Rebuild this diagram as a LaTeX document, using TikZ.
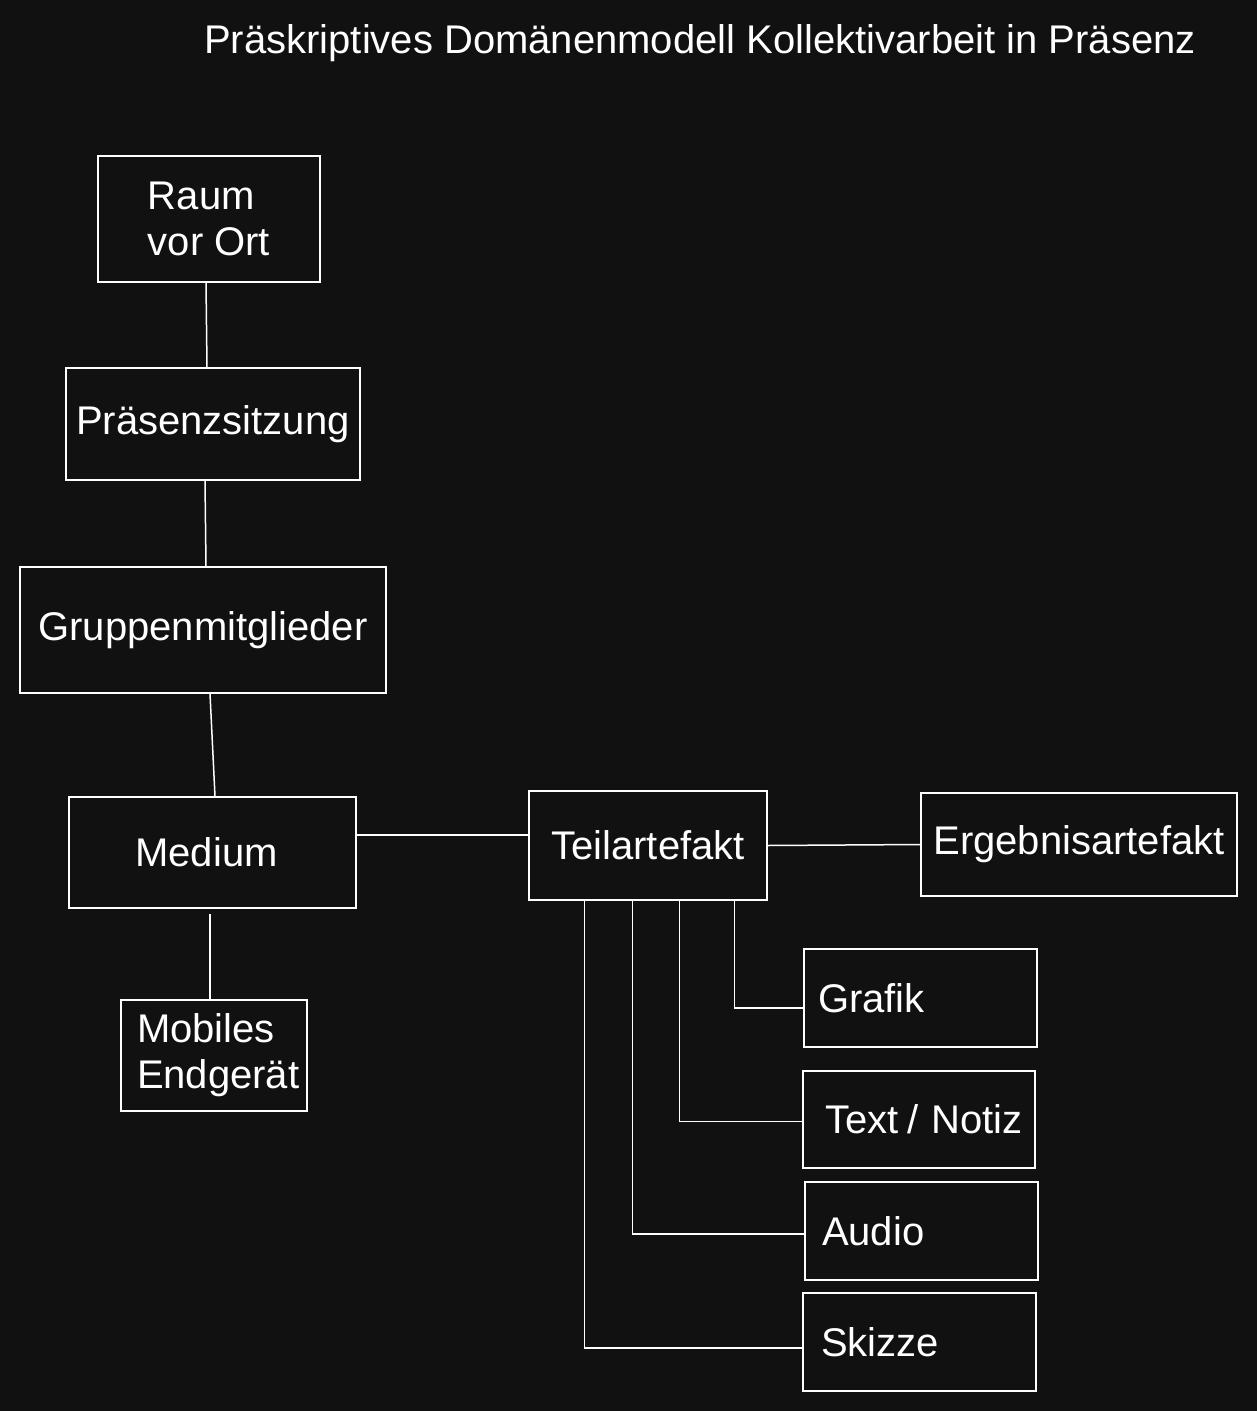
\documentclass[tikz,border=0pt]{standalone}
\usepackage{fontspec}
\setmainfont{Liberation Sans}
\begin{document}
\begin{tikzpicture}[x=1pt,y=-1pt,
  box/.style={draw=white, line width=1.5pt, text=white, inner sep=0pt,
    font=\fontsize{40}{46}\selectfont},
  conn/.style={draw=white, line width=1.5pt}]
\fill[fill={rgb,255:red,17;green,17;blue,17}] (0,0) rectangle (1257,1411);
\useasboundingbox (0,0) rectangle (1257,1411);
\node[text=white, font=\fontsize{40}{46}\selectfont, inner sep=0pt] (title) at (700,43) {Präskriptives Domänenmodell Kollektivarbeit in Präsenz};
\node[box, minimum width=222pt, minimum height=126pt, align=left] (raum) at (209,219) {Raum\\vor Ort};
\node[box, minimum width=294pt, minimum height=112pt] (praes) at (213,424) {Präsenzsitzung};
\node[box, minimum width=366pt, minimum height=126pt] (grupp) at (203,630) {Gruppenmitglieder};
\node[box, minimum width=287pt, minimum height=111pt] (medium) at (212.5,852.5) {\hspace*{-12pt}Medium};
\node[box, minimum width=186pt, minimum height=111pt, text width=154pt, align=left] (mobil) at (214,1055.5) {Mobiles\\Endgerät};
\node[box, minimum width=238pt, minimum height=109pt] (teil) at (648,845.5) {Teilartefakt};
\node[box, minimum width=316pt, minimum height=103pt] (ergeb) at (1079,844.5) {Ergebnisartefakt};
\node[box, minimum width=233pt, minimum height=98pt, text width=205pt, align=left] (grafik) at (920.5,998) {\mbox{Grafik}};
\node[box, minimum width=232pt, minimum height=97pt, text width=188pt, align=left] (textn) at (919,1119.5) {\mbox{Text\hspace{9pt}/\hspace{13pt}Notiz}};
\node[box, minimum width=233pt, minimum height=98pt, text width=199pt, align=left] (audio) at (921.5,1231) {\mbox{Audio}};
\node[box, minimum width=233pt, minimum height=98pt, text width=197pt, align=left] (skizze) at (919.5,1342) {\mbox{Skizze}};

\draw[conn] ([xshift=-3pt]raum.south) -- ([xshift=-6pt]praes.north);
\draw[conn] ([xshift=-8pt]praes.south) -- ([xshift=3pt]grupp.north);
\draw[conn] ([xshift=7pt]grupp.south) -- ([xshift=2.5pt]medium.north);
\draw[conn] ([xshift=-4pt,yshift=-5pt]mobil.north |- medium.south) -- ([xshift=-4pt]mobil.north);
\draw[conn] ([yshift=17.5pt]medium.east) -- ([yshift=10.5pt]teil.west);
\draw[conn] (teil.east) -- (ergeb.west);
\draw[conn] ([xshift=206pt]teil.south west) |- ([yshift=-10pt]grafik.west);
\draw[conn] ([xshift=151pt]teil.south west) |- ([yshift=-2pt]textn.west);
\draw[conn] ([xshift=104pt]teil.south west) |- ([yshift=-3pt]audio.west);
\draw[conn] ([xshift=56pt]teil.south west) |- ([yshift=-6pt]skizze.west);
\end{tikzpicture}
\end{document}
